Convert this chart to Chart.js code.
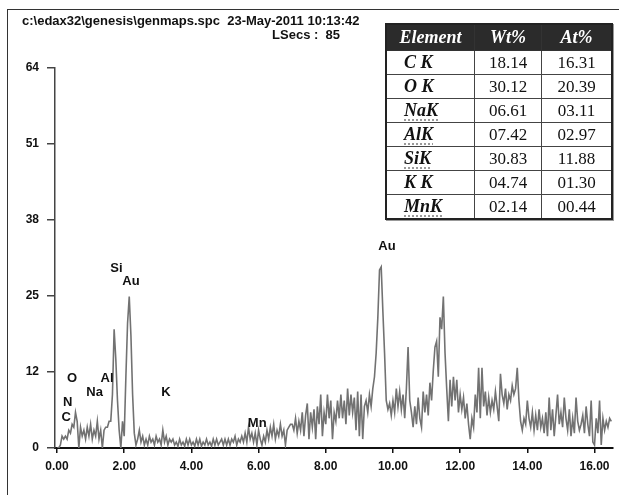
<!DOCTYPE html>
<html>
<head>
<meta charset="utf-8">
<script src="https://cdn.jsdelivr.net/npm/chart.js@4.4.1/dist/chart.umd.min.js"></script>
<style>
  html, body { margin: 0; padding: 0; background: #fff; }
  body { width: 619px; height: 495px; position: relative; overflow: hidden; font-family: "Liberation Sans", Arial, sans-serif; }
  #frame { position: absolute; left: 7px; top: 9px; width: 640px; height: 520px; border-left: 1.5px solid #333; border-top: 1.5px solid #333; }
  #wrap { position: absolute; left: 0; top: 0; width: 619px; height: 495px; }
  .hdr { position: absolute; font-weight: bold; font-size: 13px; color: #111; white-space: pre; }
  #tbl { position: absolute; left: 385px; top: 23px; border-collapse: collapse; border: 2px solid #222;
         box-shadow: 1px 1px 0 #999; font-family: "Liberation Serif", "Times New Roman", serif; background: #fff; }
  #tbl th { background: #2b2b2b; color: #fff; font-style: italic; font-weight: bold; font-size: 18px; height: 25px; padding: 0; border: 1.5px solid #333; }
  #tbl td { font-size: 17px; height: 23px; padding: 0; border: 1.5px solid #444; text-align: center; color: #111; }
  #tbl td.el { text-align: left; padding-left: 17px; font-weight: bold; font-style: italic; font-size: 18px; }
  #tbl td.el span.sp { text-decoration: underline dotted #9a9a9a 2px; text-underline-offset: 3px; }
</style>
</head>
<body>
<div id="frame"></div>
<div id="wrap"><canvas id="c" width="619" height="495"></canvas></div>
<div class="hdr" style="left:22px;top:13px">c:\edax32\genesis\genmaps.spc  23-May-2011 10:13:42</div>
<div class="hdr" style="right:279px;top:27px">LSecs :  85</div>
<table id="tbl"></table>
<script>
// spectrum: counts every 0.05 keV from 0.00 to 16.50
const energyStep = 0.05;
const counts = [
  // 0.00 - 0.95
  0, 0, 0.5, 2, 1.5, 2, 1.5, 3, 2.5, 4, 3.5, 6, 4.5, 0, 3.5, 2, 3, 1.5, 3.5, 2,
  // 1.00 - 1.95
  4, 1.5, 3, 2, 4.5, 1.5, 3, 0, 3, 3.5, 3.5, 4.5, 4.5, 9, 20, 15, 8, 3, 0, 4.5,
  // 2.00 - 2.95
  2, 12, 21, 25.5, 19, 9, 2.5, 0.5, 1.5, 3, 1, 2, 0.5, 1.5, 0.5, 2, 1, 1.5, 0.5, 2,
  // 3.00 - 3.95
  1, 1.5, 0.5, 3, 1, 2, 0.5, 1.5, 1, 1.5, 0.5, 1, 0.3, 1.5, 0.5, 1, 0.3, 1.5, 0.5, 1.5,
  // 4.00 - 4.95
  0.5, 1, 0.3, 1.5, 0.5, 1.5, 0.3, 1, 0.5, 1.5, 0.5, 1, 0.3, 1.5, 0.5, 1.5, 0.5, 1, 1.5, 0.5,
  // 5.00 - 5.95
  1.5, 0.5, 1.5, 0.5, 1.5, 1, 2, 0.5, 1.5, 1, 2, 1, 2.5, 1, 3.5, 1.5, 2.5, 1, 2.5, 0.5,
  // 6.00 - 6.95
  3, 1.5, 0.5, 2, 1, 3, 1.5, 3.5, 2, 4, 1.5, 3, 2, 4, 2, 3, 0.5, 3, 3.5, 4,
  // 7.00 - 7.95
  4, 3, 5, 2.5, 4.5, 3, 6, 2, 5.5, 7.5, 1.5, 6, 3.5, 6.5, 1.5, 7, 4, 9, 2, 6,
  // 8.00 - 8.95
  4, 9, 5, 8, 1.5, 6, 4.5, 8, 5, 9, 5, 8, 4, 10, 5.5, 9, 6, 8.5, 3, 9.5,
  // 9.00 - 9.95
  2, 9, 1.5, 7, 8, 6, 9, 7, 10, 12, 16, 22, 30, 30.5, 23, 16, 8, 6.5, 7.5, 5.5,
  // 10.00 - 10.95
  8, 6, 10, 7, 9.5, 6.5, 9, 5, 10, 17, 8, 6, 3.5, 7, 4, 8.5, 5, 3.5, 9.5, 6,
  // 11.00 - 11.95
  9, 5.5, 11, 8, 13, 17, 18, 12, 22, 20, 25.5, 16, 10, 4.5, 11.5, 7, 12, 8, 11.5, 6,
  // 12.00 - 12.95
  9, 6.5, 8.5, 5, 7.5, 4, 1.5, 5, 3.5, 9, 6, 13.5, 5, 13.5, 7, 9.5, 5.5, 8.5, 6, 8,
  // 13.00 - 13.95
  6.5, 9.5, 7, 4.5, 12.5, 9, 7.5, 10, 6.5, 9, 8, 10.5, 9, 10, 13.5, 8, 4.5, 3, 5, 4,
  // 14.00 - 14.95
  8, 5, 3.5, 6, 3, 5.5, 3, 6.5, 3.5, 5, 2.5, 6, 2, 8.5, 3, 6.5, 2, 5.5, 9, 4,
  // 15.00 - 15.95
  6, 3.5, 8.5, 5, 3, 6.5, 2, 5, 2.5, 8.5, 4.5, 3, 4, 5.5, 2.5, 7, 4, 2, 8, 1,
  // 16.00 - 16.50
  0.5, 5, 2.5, 8, 0.5, 5, 3, 4.5, 3.5, 5, 4.5
];

const xTicks = [0, 2, 4, 6, 8, 10, 12, 14, 16];
const yTicks = [0, 12.8, 25.6, 38.4, 51.2, 64];

// peak labels: [text, keV, counts]
const peakNames = ['Si', 'Au', 'Au', 'O', 'Na', 'Al', 'K', 'N', 'C', 'Mn'];
const peakKeV   = [1.77, 2.2, 9.82, 0.45, 1.12, 1.49, 3.24, 0.32, 0.27, 5.96];
const peakCount = [30.3, 28.0, 34.0, 11.8, 9.4, 11.8, 9.4, 7.6, 5.2, 4.1];

// composition table
const elements = ['C K', 'O K', 'NaK', 'AlK', 'SiK', 'K K', 'MnK'];
const wtPct = ['18.14', '30.12', '06.61', '07.42', '30.83', '04.74', '02.14'];
const atPct = ['16.31', '20.39', '03.11', '02.97', '11.88', '01.30', '00.44'];
const spellMarked = ['NaK', 'AlK', 'SiK', 'MnK'];

function buildTable() {
  const t = document.getElementById('tbl');
  let h = '<tr><th style="width:87px">Element</th><th style="width:66px">Wt%</th><th style="width:69px">At%</th></tr>';
  elements.forEach(function(el, i) {
    const name = spellMarked.indexOf(el) >= 0 ? '<span class="sp">' + el + '</span>' : el;
    h += '<tr><td class="el">' + name + '</td><td>' + wtPct[i] + '</td><td>' + atPct[i] + '</td></tr>';
  });
  t.innerHTML = h;
}
buildTable();

const points = counts.map((v, i) => ({ x: i * energyStep, y: v }));

const peakLabelPlugin = {
  id: 'peakLabels',
  afterDatasetsDraw(chart) {
    const ctx = chart.ctx, xs = chart.scales.x, ys = chart.scales.y;
    ctx.save();
    ctx.font = 'bold 13px "Liberation Sans", Arial, sans-serif';
    ctx.fillStyle = '#111';
    ctx.textAlign = 'center';
    ctx.textBaseline = 'middle';
    peakNames.forEach(function(n, i) {
      ctx.fillText(n, xs.getPixelForValue(peakKeV[i]), ys.getPixelForValue(peakCount[i]));
    });
    ctx.restore();
  }
};

const tickFont = { family: '"Liberation Sans", Arial, sans-serif', size: 12, weight: 'bold' };

new Chart(document.getElementById('c'), {
  type: 'line',
  data: {
    datasets: [{
      data: points,
      borderColor: '#727272',
      borderWidth: 1.6,
      pointRadius: 0,
      tension: 0,
      fill: false
    }]
  },
  options: {
    responsive: false,
    animation: false,
    layout: { padding: { top: 68, right: 6, left: 0, bottom: 0 } },
    plugins: { legend: { display: false }, tooltip: { enabled: false } },
    scales: {
      x: {
        type: 'linear',
        min: -0.06,
        max: 16.55,
        afterFit: function(s) { s.height = 47; },
        afterBuildTicks: function(s) { s.ticks = xTicks.map(v => ({ value: v })); },
        border: { display: true, color: '#111', width: 2 },
        grid: { drawOnChartArea: false, drawTicks: true, tickLength: 5, color: '#111', lineWidth: 1.5 },
        ticks: { color: '#111', font: tickFont, padding: 6, maxRotation: 0, autoSkip: false,
                 callback: v => v.toFixed(2) }
      },
      y: {
        min: 0,
        max: 64,
        afterFit: function(s) { s.width = 55; },
        afterBuildTicks: function(s) { s.ticks = yTicks.map(v => ({ value: v })); },
        border: { display: true, color: '#444', width: 1.5 },
        grid: { drawOnChartArea: false, drawTicks: true, tickLength: 8, color: '#444', lineWidth: 1.5 },
        ticks: { color: '#111', font: tickFont, padding: 8, autoSkip: false,
                 callback: v => String(Math.floor(v + 1e-9)) }
      }
    }
  },
  plugins: [peakLabelPlugin]
});
</script>
</body>
</html>
